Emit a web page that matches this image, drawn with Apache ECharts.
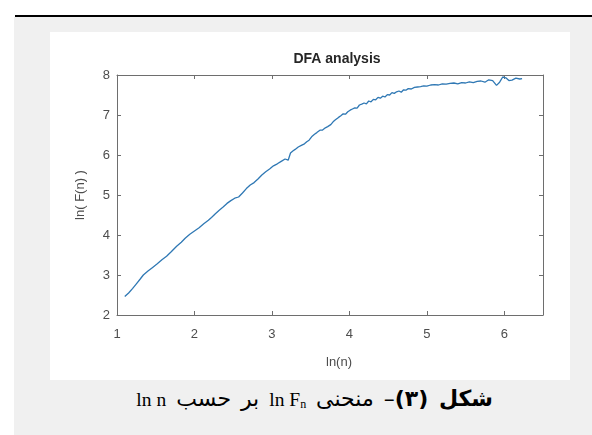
<!DOCTYPE html>
<html>
<head>
<meta charset="utf-8">
<script src="https://cdn.jsdelivr.net/npm/echarts@6/dist/echarts.min.js"></script>
<style>
  body { margin: 0; background: #fff; width: 592px; height: 435px; overflow: hidden; position: relative; }
  #rule { position: absolute; left: 15px; top: 15px; width: 577px; height: 2px; background: #000; }
  #panel { position: absolute; left: 14px; top: 17px; width: 578px; height: 418px; background: #f0f0f0; }
  #dfaChart { position: absolute; left: 50px; top: 32px; width: 520px; height: 348px; background: #fff; }
  #caption { position: absolute; right: 99px; top: 386px; white-space: nowrap; font-family: "Liberation Serif", "DejaVu Serif", serif;
             font-size: 19.5px; line-height: 26px; color: #000; text-align: right; }
  #caption .fa { font-family: "DejaVu Sans", sans-serif; font-size: 22px; word-spacing: 3px; }
  #caption sub { font-size: 12px; vertical-align: -2px; }
</style>
</head>
<body>
<div id="rule"></div>
<div id="panel"></div>
<div id="dfaChart"></div>
<div id="caption" dir="rtl"><b class="fa">شکل (۳)</b><span class="fa">– منحنی </span>ln F<sub>n</sub><span class="fa"> بر حسب </span>ln n</div>
<script>
// ln(n) values
var lnN = [1.10,1.15,1.20,1.25,1.30,1.34,1.40,1.46,1.52,1.58,1.64,1.70,1.77,1.83,1.88,1.94,2.00,2.06,2.12,2.18,
  2.22,2.27,2.32,2.37,2.42,2.47,2.52,2.57,2.62,2.67,2.72,2.77,2.82,2.87,2.92,2.97,3.02,3.07,3.12,3.17,
  3.21,3.24,3.27,3.30,3.34,3.38,3.42,3.45,3.48,3.52,3.55,3.58,3.62,3.65,3.69,3.72,3.76,3.79,3.82,3.86,
  3.89,3.92,3.95,3.98,4.01,4.04,4.07,4.10,4.13,4.16,4.19,4.22,4.25,4.28,4.31,4.34,4.37,4.40,4.43,4.46,
  4.49,4.52,4.55,4.58,4.61,4.64,4.67,4.70,4.73,4.76,4.80,4.84,4.88,4.92,4.96,5.00,5.05,5.10,5.15,5.20,
  5.25,5.30,5.35,5.40,5.45,5.50,5.55,5.60,5.65,5.70,5.75,5.80,5.85,5.90,5.94,5.98,6.02,6.06,6.10,6.15,
  6.20,6.23];
// ln(F(n)) values
var lnF = [2.46,2.55,2.66,2.78,2.90,3.00,3.10,3.19,3.28,3.38,3.47,3.58,3.72,3.82,3.92,4.02,4.10,4.18,4.28,4.37,
  4.44,4.53,4.62,4.70,4.79,4.86,4.92,4.95,5.05,5.16,5.25,5.31,5.40,5.50,5.58,5.65,5.73,5.78,5.84,5.90,
  5.87,6.05,6.10,6.14,6.20,6.24,6.28,6.33,6.37,6.47,6.52,6.56,6.62,6.62,6.68,6.71,6.76,6.83,6.88,6.94,
  6.98,7.03,7.02,7.08,7.12,7.15,7.18,7.17,7.25,7.27,7.30,7.28,7.35,7.33,7.39,7.38,7.44,7.42,7.47,7.45,
  7.51,7.50,7.56,7.54,7.58,7.60,7.57,7.63,7.62,7.66,7.65,7.69,7.70,7.71,7.73,7.72,7.75,7.76,7.75,7.78,
  7.77,7.79,7.80,7.78,7.81,7.80,7.83,7.81,7.84,7.85,7.82,7.88,7.86,7.74,7.82,7.95,7.93,7.86,7.87,7.92,
  7.90,7.91];
var xTicks = [1, 2, 3, 4, 5, 6];
var yTicks = [2, 3, 4, 5, 6, 7, 8];

var myChart = echarts.init(document.getElementById('dfaChart'));

var axisCol = '#6e6e6e';
var labelCol = '#4d4d4d';
var fontFam = '"Liberation Sans", Arial, sans-serif';

function boxAxis(pos, isX, showLabel) {
  return {
    type: 'value',
    position: pos,
    min: isX ? 1 : 2,
    max: isX ? 6.5 : 8,
    interval: 1,
    splitLine: { show: false },
    axisLine: { show: true, onZero: false, lineStyle: { color: axisCol, width: 1 } },
    axisTick: { show: true, inside: true, length: 4, customValues: isX ? xTicks : yTicks,
      lineStyle: { color: axisCol } },
    axisLabel: { show: showLabel, customValues: isX ? xTicks : yTicks, margin: isX ? 13 : 7,
      color: labelCol, fontSize: 13, fontFamily: fontFam }
  };
}

var xBottom = boxAxis('bottom', true, true);
xBottom.name = 'ln(n)';
xBottom.nameLocation = 'middle';
xBottom.nameGap = 41;
xBottom.nameTextStyle = { color: labelCol, fontSize: 13, fontFamily: fontFam, padding: [0, 0, 0, 18] };

var yLeft = boxAxis('left', false, true);
yLeft.name = 'ln( F(n) )';
yLeft.nameLocation = 'middle';
yLeft.nameGap = 30;
yLeft.nameTextStyle = { color: labelCol, fontSize: 13, fontFamily: fontFam };

var option = {
  animation: false,
  title: {
    text: 'DFA analysis',
    left: 282, top: 15, textAlign: 'center',
    textStyle: { color: '#262626', fontSize: 14, fontWeight: 'bold', fontFamily: fontFam }
  },
  grid: { left: 67, top: 43, right: 27, bottom: 65 },
  xAxis: [xBottom, boxAxis('top', true, false)],
  yAxis: [yLeft, boxAxis('right', false, false)],
  series: [{
    type: 'line',
    xAxisIndex: 0,
    yAxisIndex: 0,
    data: lnN.map(function (v, i) { return [v, lnF[i]]; }),
    showSymbol: false,
    lineStyle: { color: '#2f78b4', width: 1.3 }
  }]
};
myChart.setOption(option);
</script>
</body>
</html>
